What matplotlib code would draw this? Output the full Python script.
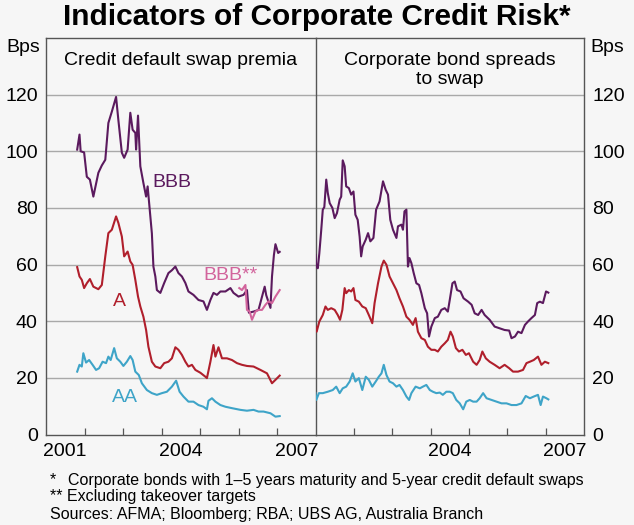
import matplotlib
matplotlib.use("Agg")
import matplotlib.pyplot as plt

plt.rcParams['font.family'] = ['Liberation Sans', 'DejaVu Sans']

# ---------------- data (decimal years, basis points) ----------------
cds_bbb_x = [2001.81, 2001.87, 2001.90, 2001.99, 2002.06, 2002.14, 2002.23, 2002.36, 2002.45, 2002.54,
             2002.62, 2002.71, 2002.82, 2002.88, 2002.97, 2003.03, 2003.12, 2003.19, 2003.25, 2003.32,
             2003.34, 2003.39, 2003.45, 2003.53, 2003.60, 2003.64, 2003.75, 2003.79, 2003.84, 2003.88,
             2003.97, 2004.07, 2004.18, 2004.27, 2004.36, 2004.44, 2004.53, 2004.62, 2004.70, 2004.83,
             2004.96, 2005.09, 2005.18, 2005.27, 2005.35, 2005.44, 2005.53, 2005.66, 2005.79, 2005.87,
             2006.00, 2006.13, 2006.22, 2006.27, 2006.39, 2006.52, 2006.68, 2006.72, 2006.83, 2006.87,
             2006.92, 2006.96, 2007.03, 2007.07]
cds_bbb_y = [100.6, 105.9, 100.0, 99.6, 91.0, 90.0, 84.0, 92.4, 95.0, 97.0,
             110.0, 114.0, 119.2, 111.0, 99.5, 97.7, 100.6, 113.6, 107.6, 106.5,
             100.6, 112.6, 94.7, 88.8, 84.0, 87.6, 71.0, 59.3, 55.8, 51.0,
             50.0, 53.5, 57.0, 58.0, 59.3, 57.0, 55.8, 53.5, 50.5, 49.3,
             47.5, 47.0, 44.0, 47.5, 50.0, 49.3, 50.5, 50.5, 51.7, 50.0,
             48.7, 49.3, 51.0, 43.0, 43.4, 44.0, 52.2, 49.2, 44.7, 55.8,
             63.4, 67.2, 64.1, 64.5]

cds_bbb2_x = [2006.02, 2006.09, 2006.18, 2006.22, 2006.29, 2006.35, 2006.44, 2006.52, 2006.61,
              2006.70, 2006.78, 2006.87, 2006.96, 2007.07]
cds_bbb2_y = [51.7, 51.0, 52.8, 44.0, 43.4, 40.5, 43.4, 44.0, 44.0,
              45.8, 47.0, 46.4, 48.7, 51.0]

cds_a_x = [2001.81, 2001.87, 2001.93, 2001.99, 2002.06, 2002.14, 2002.23, 2002.36, 2002.45, 2002.54,
           2002.62, 2002.71, 2002.82, 2002.88, 2002.97, 2003.03, 2003.12, 2003.19, 2003.25, 2003.32,
           2003.39, 2003.45, 2003.53, 2003.60, 2003.66, 2003.75, 2003.84, 2003.97, 2004.07, 2004.18,
           2004.27, 2004.36, 2004.44, 2004.53, 2004.62, 2004.70, 2004.79, 2004.88, 2005.01, 2005.14,
           2005.18, 2005.27, 2005.35, 2005.40, 2005.48, 2005.57, 2005.70, 2005.83, 2005.96, 2006.09,
           2006.22, 2006.39, 2006.57, 2006.74, 2006.87, 2006.96, 2007.07]
cds_a_y = [59.1, 55.8, 54.6, 51.7, 53.4, 54.9, 52.2, 51.3, 52.8, 62.9,
           71.1, 72.3, 77.0, 74.7, 69.9, 62.9, 64.6, 61.1, 59.9, 54.6,
           48.7, 45.2, 41.6, 36.9, 31.0, 25.7, 24.0, 23.4, 25.2, 25.7,
           26.9, 30.8, 29.9, 28.1, 25.7, 24.0, 24.6, 22.8, 21.8, 20.4,
           19.9, 25.7, 31.6, 27.5, 30.8, 26.9, 26.9, 26.3, 25.2, 24.6,
           24.2, 24.0, 22.8, 21.6, 18.1, 19.3, 20.8]

cds_aa_x = [2001.81, 2001.87, 2001.93, 2001.97, 2002.04, 2002.12, 2002.21, 2002.30, 2002.38, 2002.47,
            2002.56, 2002.62, 2002.68, 2002.77, 2002.84, 2002.93, 2003.01, 2003.10, 2003.19, 2003.25,
            2003.32, 2003.41, 2003.49, 2003.62, 2003.75, 2003.88, 2004.01, 2004.14, 2004.27, 2004.38,
            2004.47, 2004.57, 2004.70, 2004.83, 2004.96, 2005.09, 2005.18, 2005.22, 2005.31, 2005.40,
            2005.53, 2005.66, 2005.83, 2006.05, 2006.22, 2006.39, 2006.52, 2006.65, 2006.83, 2006.96,
            2007.07]
cds_aa_y = [22.2, 24.6, 24.0, 28.7, 25.4, 26.3, 24.6, 22.8, 23.4, 25.7,
            25.2, 27.5, 26.3, 30.5, 26.9, 25.7, 24.2, 25.7, 27.7, 26.3,
            22.2, 21.0, 18.1, 15.7, 14.6, 14.0, 14.6, 15.1, 16.9, 19.0,
            15.1, 13.4, 11.6, 11.6, 10.4, 9.8, 8.9, 11.9, 12.8, 11.6,
            10.4, 9.8, 9.3, 8.7, 8.4, 8.7, 8.1, 8.1, 7.5, 6.3,
            6.5]

bond_bbb_x = [2001.00, 2001.02, 2001.06, 2001.10, 2001.15, 2001.19, 2001.23, 2001.28, 2001.32, 2001.37,
              2001.44, 2001.50, 2001.56, 2001.63, 2001.67, 2001.71, 2001.76, 2001.80, 2001.87, 2001.93,
              2001.99, 2002.04, 2002.10, 2002.15, 2002.19, 2002.23, 2002.31, 2002.37, 2002.43, 2002.51,
              2002.58, 2002.67, 2002.76, 2002.83, 2002.89, 2002.95, 2003.02, 2003.11, 2003.15, 2003.24,
              2003.28, 2003.32, 2003.37, 2003.41, 2003.45, 2003.50, 2003.56, 2003.63, 2003.70, 2003.76,
              2003.85, 2003.91, 2003.96, 2004.02, 2004.11, 2004.19, 2004.28, 2004.37, 2004.45, 2004.50,
              2004.57, 2004.63, 2004.69, 2004.78, 2004.86, 2004.98, 2005.07, 2005.15, 2005.24, 2005.33,
              2005.41, 2005.54, 2005.67, 2005.80, 2005.93, 2006.05, 2006.11, 2006.20, 2006.28, 2006.37,
              2006.46, 2006.54, 2006.63, 2006.72, 2006.78, 2006.85, 2006.93, 2007.01, 2007.07]
bond_bbb_y = [63.4, 59.3, 58.7, 64.0, 72.3, 79.4, 80.3, 90.0, 85.3, 81.7,
              80.0, 76.4, 78.2, 82.9, 84.0, 96.8, 94.7, 87.6, 87.0, 84.7,
              85.8, 77.6, 75.8, 69.9, 62.9, 66.4, 68.8, 71.1, 68.2, 69.4,
              79.4, 82.3, 89.4, 86.4, 84.7, 75.8, 72.3, 69.4, 73.5, 74.1,
              72.3, 78.8, 79.4, 59.3, 62.3, 60.5, 57.0, 53.4, 52.8, 49.9,
              44.6, 42.8, 34.6, 38.1, 41.1, 41.6, 44.0, 44.6, 43.4, 47.5,
              53.4, 54.0, 51.0, 50.5, 48.1, 46.9, 45.8, 42.8, 42.2, 44.0,
              42.2, 40.5, 38.1, 37.5, 36.9, 36.7, 34.0, 34.6, 36.3, 35.8,
              38.7, 39.9, 41.1, 42.2, 46.4, 46.9, 46.4, 50.5, 50.1]

bond_a_x = [2001.00, 2001.03, 2001.10, 2001.19, 2001.26, 2001.32, 2001.41, 2001.50, 2001.58, 2001.64,
            2001.70, 2001.76, 2001.80, 2001.87, 2001.93, 2001.99, 2002.04, 2002.13, 2002.22, 2002.31,
            2002.39, 2002.48, 2002.54, 2002.63, 2002.72, 2002.78, 2002.85, 2002.93, 2003.02, 2003.11,
            2003.19, 2003.28, 2003.37, 2003.45, 2003.54, 2003.61, 2003.67, 2003.76, 2003.85, 2003.93,
            2004.02, 2004.11, 2004.19, 2004.28, 2004.37, 2004.45, 2004.52, 2004.58, 2004.66, 2004.74,
            2004.83, 2004.92, 2005.00, 2005.11, 2005.20, 2005.28, 2005.35, 2005.44, 2005.54, 2005.67,
            2005.80, 2005.93, 2006.05, 2006.15, 2006.28, 2006.41, 2006.50, 2006.59, 2006.69, 2006.80,
            2006.89, 2006.98, 2007.07]
bond_a_y = [38.1, 36.3, 39.9, 42.2, 45.2, 44.0, 44.6, 44.0, 42.2, 40.5,
            44.0, 51.7, 49.9, 51.0, 50.5, 51.7, 47.5, 46.9, 45.2, 44.6,
            42.2, 39.3, 46.4, 53.4, 59.3, 61.4, 59.9, 55.8, 53.4, 51.0,
            48.1, 45.2, 41.6, 40.5, 38.7, 41.1, 36.3, 34.0, 33.4, 31.0,
            29.9, 29.9, 29.3, 31.0, 32.2, 33.4, 36.3, 34.6, 30.5, 29.3,
            29.9, 28.1, 28.7, 25.7, 24.6, 26.3, 29.3, 26.9, 25.7, 24.6,
            23.4, 24.6, 23.4, 22.2, 22.2, 22.8, 25.2, 25.7, 26.3, 27.5,
            24.6, 25.7, 25.2]

bond_aa_x = [2001.00, 2001.02, 2001.09, 2001.19, 2001.32, 2001.45, 2001.54, 2001.63, 2001.71, 2001.80,
             2001.89, 2001.97, 2002.04, 2002.13, 2002.22, 2002.31, 2002.39, 2002.48, 2002.57, 2002.65,
             2002.72, 2002.78, 2002.85, 2002.93, 2003.02, 2003.11, 2003.19, 2003.28, 2003.37, 2003.44,
             2003.50, 2003.61, 2003.72, 2003.80, 2003.89, 2003.98, 2004.06, 2004.15, 2004.24, 2004.32,
             2004.41, 2004.50, 2004.58, 2004.67, 2004.76, 2004.85, 2004.93, 2005.02, 2005.11, 2005.20,
             2005.28, 2005.37, 2005.46, 2005.59, 2005.72, 2005.85, 2005.98, 2006.11, 2006.24, 2006.37,
             2006.48, 2006.59, 2006.69, 2006.80, 2006.87, 2006.93, 2007.02, 2007.07]
bond_aa_y = [14.6, 12.2, 14.6, 14.6, 15.1, 15.7, 16.9, 14.6, 16.3, 16.9,
             18.7, 21.6, 18.7, 19.9, 15.7, 20.4, 19.3, 16.9, 18.7, 20.4,
             21.6, 24.6, 21.0, 18.7, 18.1, 16.9, 17.5, 15.7, 13.4, 12.2,
             14.6, 16.9, 16.3, 16.9, 17.5, 15.7, 15.1, 14.6, 14.8, 14.0,
             15.1, 15.1, 14.6, 12.2, 11.0, 8.9, 11.6, 12.2, 11.6, 11.6,
             12.8, 14.6, 12.8, 12.2, 11.6, 11.0, 11.0, 10.4, 10.4, 11.0,
             13.6, 12.8, 13.4, 14.0, 10.4, 13.4, 12.8, 12.4]

y_ticks = [0, 20, 40, 60, 80, 100, 120]
year_ticks = [2002, 2003, 2004, 2005, 2006, 2007]
left_year_labels = ['2001', '2004', '2007']
right_year_labels = ['2004', '2007']

# ---------------- styling ----------------
BG = '#f6f6f6'
C_BBB = '#5b1a5e'
C_A = '#b01f2c'
C_AA = '#3ea4c8'
C_BBB2 = '#d2649c'
GRID = '#a9a9a9'
SPINE = '#555555'

fig = plt.figure(figsize=(6.34, 5.25), dpi=100, facecolor=BG)
axL = fig.add_axes([46 / 634, 90.5 / 525, 269.5 / 634, 396.5 / 525])
axR = fig.add_axes([315.5 / 634, 90.5 / 525, 268.5 / 634, 396.5 / 525])

for ax in (axL, axR):
    ax.set_facecolor(BG)
    ax.set_xlim(2001, 2008)
    ax.set_ylim(0, 140)
    for y in y_ticks[1:]:
        ax.axhline(y, color=GRID, lw=1.0, zorder=1)
    for s in ax.spines.values():
        s.set_color(SPINE)
        s.set_linewidth(1.0)
    ax.set_xticks(year_ticks)
    ax.set_xticklabels([])
    ax.tick_params(axis='x', which='major', direction='in', length=5, width=0.9, color=SPINE)
    ax.tick_params(axis='x', which='minor', length=0, pad=6, labelsize=14)
    ax.set_yticks(y_ticks)

lw = 1.5
axL.plot(cds_bbb_x, cds_bbb_y, color=C_BBB, lw=lw, zorder=3)
axL.plot(cds_bbb2_x, cds_bbb2_y, color=C_BBB2, lw=lw, zorder=4)
axL.plot(cds_a_x, cds_a_y, color=C_A, lw=lw, zorder=3)
axL.plot(cds_aa_x, cds_aa_y, color=C_AA, lw=lw, zorder=3)

axR.plot(bond_bbb_x, bond_bbb_y, color=C_BBB, lw=lw, zorder=3)
axR.plot(bond_a_x, bond_a_y, color=C_A, lw=lw, zorder=3)
axR.plot(bond_aa_x, bond_aa_y, color=C_AA, lw=lw, zorder=3)

axL.set_xticks([int(t) + 0.5 for t in left_year_labels], minor=True)
axL.set_xticklabels(left_year_labels, minor=True)
axR.set_xticks([int(t) + 0.5 for t in right_year_labels], minor=True)
axR.set_xticklabels(right_year_labels, minor=True)

axL.tick_params(axis='y', length=0, pad=6, labelsize=14, left=True, labelleft=True)
axR.yaxis.tick_right()
axR.tick_params(axis='y', length=0, pad=6, labelsize=14, right=True, labelright=True,
                left=False, labelleft=False)
axL.spines['right'].set_visible(False)

# series labels
axL.text(2004.28, 89.0, 'BBB', color=C_BBB, fontsize=14, ha='center', va='center')
axL.text(2005.79, 56, 'BBB**', color=C_BBB2, fontsize=14, ha='center', va='center')
axL.text(2002.9, 46.8, 'A', color=C_A, fontsize=14, ha='center', va='center')
axL.text(2003.06, 12.9, 'AA', color=C_AA, fontsize=14, ha='center', va='center')

# panel titles
axL.text(0.5, 0.965, 'Credit default swap premia', transform=axL.transAxes,
         fontsize=14, ha='center', va='top')
axR.text(0.5, 0.965, 'Corporate bond spreads\nto swap', transform=axR.transAxes,
         fontsize=14, ha='center', va='top', linespacing=1.2)

# Bps units
fig.text(40 / 634, 1 - 47 / 525, 'Bps', fontsize=14, ha='right', va='center')
fig.text(590 / 634, 1 - 47 / 525, 'Bps', fontsize=14, ha='left', va='center')

# title
fig.text(0.5, 1 - 17 / 525, 'Indicators of Corporate Credit Risk*', fontsize=21.5,
         fontweight='bold', ha='center', va='center')

# footnotes
fs = 11.5
fig.text(50 / 634, 1 - 480 / 525, '*', fontsize=fs, ha='left', va='center')
fig.text(68 / 634, 1 - 480 / 525,
         'Corporate bonds with 1\u20135 years maturity and 5-year credit default swaps',
         fontsize=fs, ha='left', va='center')
fig.text(50 / 634, 1 - 497 / 525, '** Excluding takeover targets', fontsize=fs,
         ha='left', va='center')
fig.text(50 / 634, 1 - 515 / 525, 'Sources: AFMA; Bloomberg; RBA; UBS AG, Australia Branch',
         fontsize=fs, ha='left', va='center')

fig.savefig('out.png', dpi=100, facecolor=BG)
